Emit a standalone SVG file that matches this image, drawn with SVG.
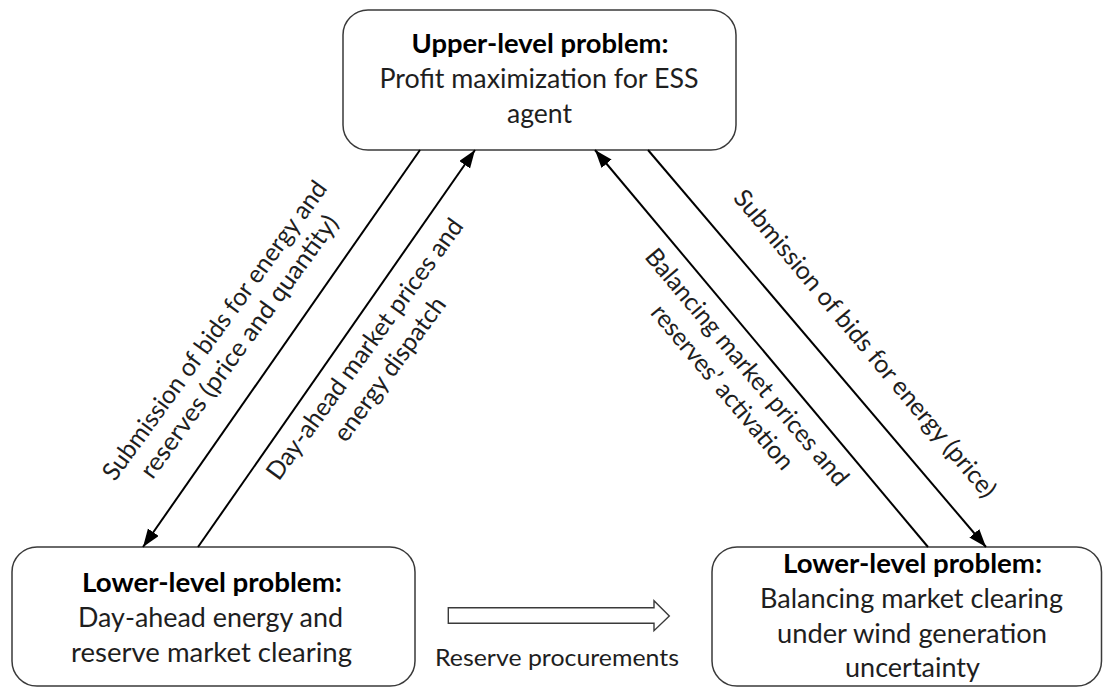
<svg xmlns="http://www.w3.org/2000/svg" width="1103" height="687" viewBox="0 0 1103 687">
<style>
.box{fill:#fff;stroke:#3a3a3a;stroke-width:1.5}
.t{font-family:Lato,"Open Sans","Liberation Sans",sans-serif;font-size:26px;fill:#1e1e1e;text-anchor:middle}
.b{font-weight:bold;fill:#000}
.r{font-size:25px}
.conn{stroke:#000;stroke-width:2;fill:none}
.block{fill:#fff;stroke:#3a3a3a;stroke-width:1.4}
</style>
<defs>
<marker id="ah" markerUnits="userSpaceOnUse" markerWidth="20" markerHeight="14" refX="18" refY="6.5" orient="auto">
<path d="M0,0 L18,6.5 L0,13 z" fill="#000"/>
</marker>
</defs>
<rect width="1103" height="687" fill="#fff"/>
<g id="upper">
<rect class="box" x="343" y="10" width="393" height="140" rx="25" ry="25"/>
<text class="t b" x="540" y="53" textLength="257" lengthAdjust="spacingAndGlyphs">Upper-level problem:</text>
<text class="t" x="539" y="88" textLength="319" lengthAdjust="spacingAndGlyphs">Profit maximization for ESS</text>
<text class="t" x="539.5" y="123" textLength="65" lengthAdjust="spacingAndGlyphs">agent</text>
</g>
<g id="lower-dayahead">
<rect class="box" x="12" y="547" width="403" height="139" rx="25" ry="25"/>
<text class="t b" x="212" y="592" textLength="260" lengthAdjust="spacingAndGlyphs">Lower-level problem:</text>
<text class="t" x="210.5" y="627" textLength="265" lengthAdjust="spacingAndGlyphs">Day-ahead energy and</text>
<text class="t" x="211.5" y="662" textLength="281" lengthAdjust="spacingAndGlyphs">reserve market clearing</text>
</g>
<g id="lower-balancing">
<rect class="box" x="712" y="547" width="389.5" height="139" rx="25" ry="25"/>
<text class="t b" x="912.5" y="573" textLength="259" lengthAdjust="spacingAndGlyphs">Lower-level problem:</text>
<text class="t" x="911.5" y="608" textLength="303" lengthAdjust="spacingAndGlyphs">Balancing market clearing</text>
<text class="t" x="912" y="643" textLength="270" lengthAdjust="spacingAndGlyphs">under wind generation</text>
<text class="t" x="912.5" y="677" textLength="135" lengthAdjust="spacingAndGlyphs">uncertainty</text>
</g>
<g id="connectors">
<line class="conn" x1="420" y1="150" x2="143" y2="547" marker-end="url(#ah)"/>
<line class="conn" x1="198" y1="547" x2="475" y2="150" marker-end="url(#ah)"/>
<line class="conn" x1="928" y1="547" x2="595" y2="150" marker-end="url(#ah)"/>
<line class="conn" x1="648" y1="150" x2="986" y2="547" marker-end="url(#ah)"/>
<path class="block" d="M448.3,607.7 L654,607.7 L654,600.7 L669.3,616 L654,630.7 L654,623.3 L448.3,623.3 Z"/>
</g>
<g id="labels">
<text class="t r" transform="translate(221.5,335.5) rotate(-54)" textLength="363" lengthAdjust="spacingAndGlyphs">Submission of bids for energy and</text>
<text class="t r" transform="translate(246,351.5) rotate(-54)" textLength="318" lengthAdjust="spacingAndGlyphs">reserves (price and quantity)</text>
<text class="t r" transform="translate(371.5,354) rotate(-54)" textLength="316" lengthAdjust="spacingAndGlyphs">Day-ahead market prices and</text>
<text class="t r" transform="translate(396.5,374) rotate(-54)" textLength="172" lengthAdjust="spacingAndGlyphs">energy dispatch</text>
<text class="t r" transform="translate(740.5,372.5) rotate(50)" textLength="301" lengthAdjust="spacingAndGlyphs">Balancing market prices and</text>
<text class="t r" transform="translate(716,392.5) rotate(50)" textLength="207" lengthAdjust="spacingAndGlyphs">reserves’ activation</text>
<text class="t r" transform="translate(858.5,349) rotate(50)" textLength="393" lengthAdjust="spacingAndGlyphs">Submission of bids for energy (price)</text>
<text class="t" x="557" y="666" style="font-size:23.5px" textLength="244" lengthAdjust="spacingAndGlyphs">Reserve procurements</text>
</g>
</svg>
